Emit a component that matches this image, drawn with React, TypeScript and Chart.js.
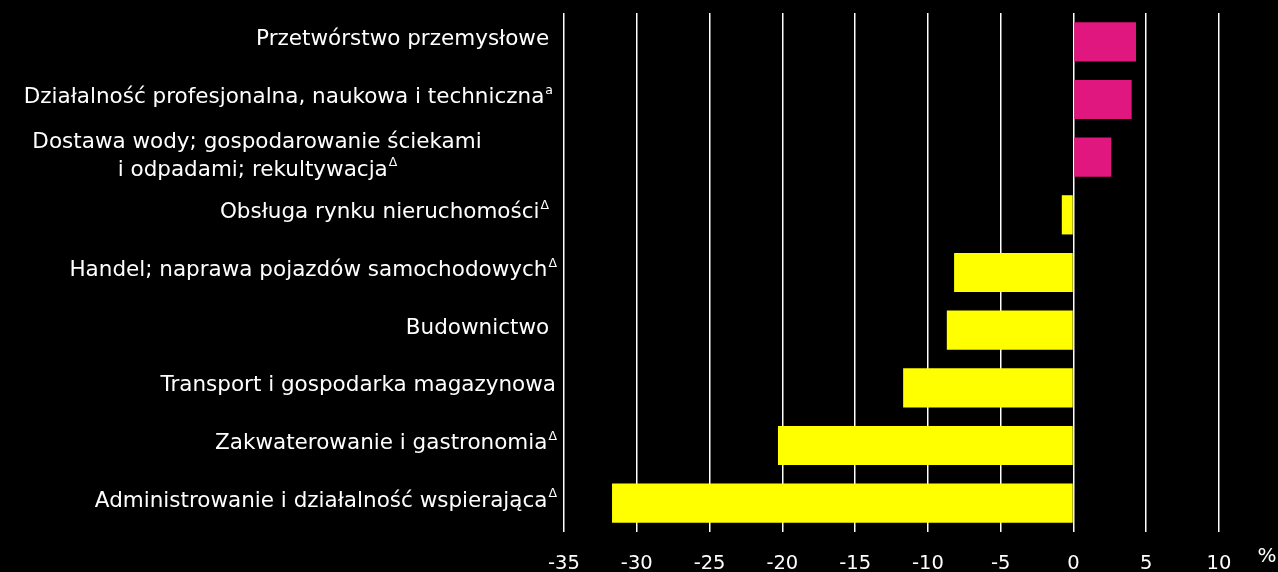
import React, { useEffect, useRef } from "react";
import { Chart, registerables } from "chart.js";

Chart.register(...registerables);

const categories: string[] = [
  "Przetwórstwo przemysłowe ",
  "Działalność profesjonalna, naukowa i techniczna",
  "Dostawa wody; gospodarowanie ściekami\ni odpadami; rekultywacja",
  "Obsługa rynku nieruchomości",
  "Handel; naprawa pojazdów samochodowych",
  "Budownictwo ",
  "Transport i gospodarka magazynowa",
  "Zakwaterowanie i gastronomia",
  "Administrowanie i działalność wspierająca",
];
const superscripts: string[] = ["", "a ", "Δ", "Δ  ", "Δ", "", "", "Δ", "Δ"];
const values: number[] = [4.3, 4.0, 2.6, -0.8, -8.2, -8.7, -11.7, -20.3, -31.7];
const unitLabel = "%";

const FONT = "'DejaVu Sans', sans-serif";
const POS_COLOR = "#E0177F";
const NEG_COLOR = "#FFFF00";

const labelPlugin = {
  id: "customLabels",
  beforeDraw(chart: any) {
    const ctx = chart.ctx;
    ctx.save();
    ctx.fillStyle = "#000";
    ctx.fillRect(0, 0, chart.width, chart.height);
    ctx.restore();
  },
  afterDraw(chart: any) {
    const ctx = chart.ctx;
    const yScale = chart.scales.y;
    const area = chart.chartArea;
    const rightEdge = area.left - 8;
    const mainFont = `21.5px ${FONT}`;
    const supFont = `12.5px ${FONT}`;
    ctx.save();
    ctx.fillStyle = "#fff";
    ctx.textBaseline = "middle";
    categories.forEach((lab, i) => {
      const y = yScale.getPixelForValue(i) - 2;
      const sup = superscripts[i];
      const lines = lab.split("\n");
      if (lines.length === 1) {
        ctx.font = supFont;
        const sw = sup ? ctx.measureText(sup).width : 0;
        ctx.font = mainFont;
        const mw = ctx.measureText(lines[0]).width;
        const x0 = rightEdge - sw - mw;
        ctx.textAlign = "left";
        ctx.fillText(lines[0], x0, y);
        if (sup) {
          ctx.font = supFont;
          ctx.fillText(sup, x0 + mw + 1, y - 7);
        }
      } else {
        const lineH = 28;
        const cx = 257;
        const n = lines.length;
        lines.forEach((ln, j) => {
          const ly = y + 1 + (j - (n - 1) / 2) * lineH;
          ctx.font = mainFont;
          const mw = ctx.measureText(ln).width;
          let sw = 0;
          const isLast = j === n - 1;
          if (isLast && sup) {
            ctx.font = supFont;
            sw = ctx.measureText(sup).width;
          }
          const x0 = cx - (mw + sw) / 2;
          ctx.font = mainFont;
          ctx.textAlign = "left";
          ctx.fillText(ln, x0, ly);
          if (isLast && sup) {
            ctx.font = supFont;
            ctx.fillText(sup, x0 + mw + 1, ly - 7);
          }
        });
      }
    });
    ctx.font = `20px ${FONT}`;
    ctx.textAlign = "center";
    ctx.fillText(unitLabel, area.right + 48, area.bottom + 25);
    ctx.restore();
  },
};

export default function App() {
  const canvasRef = useRef<HTMLCanvasElement | null>(null);

  useEffect(() => {
    if (!canvasRef.current) return;
    const chart = new Chart(canvasRef.current, {
      type: "bar",
      data: {
        labels: categories,
        datasets: [
          {
            data: values,
            backgroundColor: values.map((v) => (v >= 0 ? POS_COLOR : NEG_COLOR)),
            borderWidth: 0,
            barPercentage: 0.68,
            categoryPercentage: 1,
          },
        ],
      },
      options: {
        indexAxis: "y",
        animation: false,
        responsive: true,
        maintainAspectRatio: false,
        layout: { padding: { left: 564, right: 59, top: 13, bottom: 0 } },
        plugins: {
          legend: { display: false },
          tooltip: { enabled: false },
        },
        scales: {
          x: {
            min: -35,
            max: 10,
            afterFit: (scale: any) => {
              scale.height = 40;
            },
            ticks: {
              stepSize: 5,
              color: "#fff",
              font: { family: FONT, size: 19.5 },
              padding: 20,
              maxRotation: 0,
            },
            grid: { color: "#ffffff", lineWidth: 1.5, drawTicks: false },
            border: { display: false },
          },
          y: { display: false },
        },
      },
      plugins: [labelPlugin],
    } as any);
    return () => chart.destroy();
  }, []);

  return (
    <div
      style={{
        position: "absolute",
        left: 0,
        top: 0,
        width: 1278,
        height: 572,
        background: "#000",
      }}
    >
      <canvas ref={canvasRef} />
    </div>
  );
}
